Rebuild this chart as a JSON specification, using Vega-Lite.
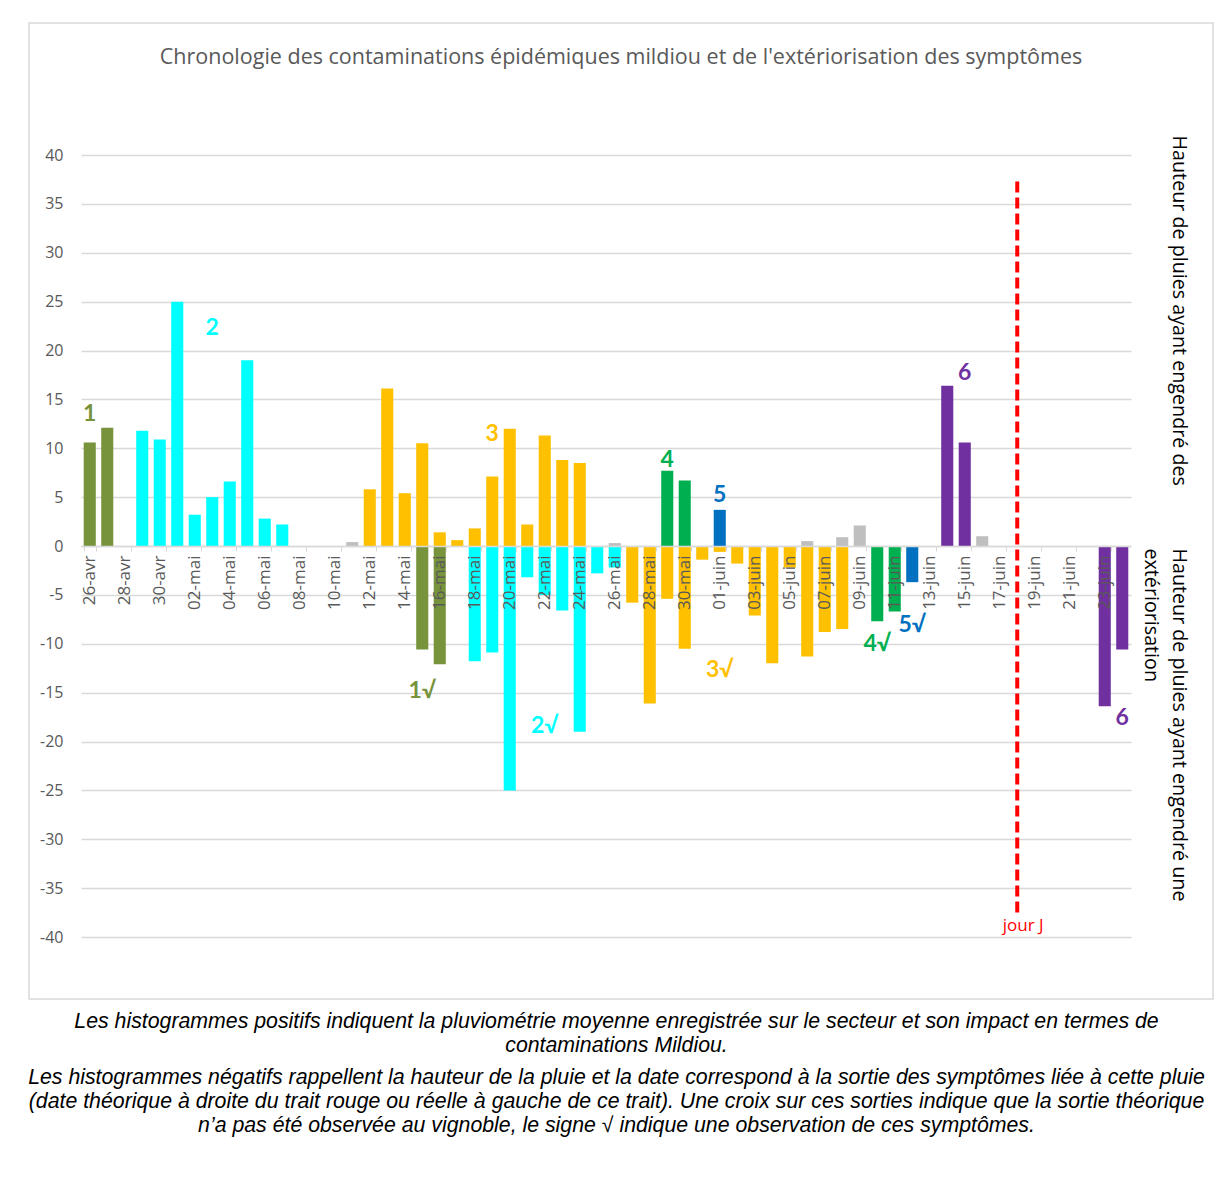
{
  "$schema": "https://vega.github.io/schema/vega-lite/v6.json",
  "background": "white",
  "padding": {"left": 19, "top": 22, "right": 0, "bottom": 0},
  "autosize": {"type": "pad"},
  "title": {
    "text": ["Les histogrammes positifs indiquent la pluviométrie moyenne enregistrée sur le secteur et son impact en termes de", "contaminations Mildiou."],
    "subtitle": ["Les histogrammes négatifs rappellent la hauteur de la pluie et la date correspond à la sortie des symptômes liée à cette pluie", "(date théorique à droite du trait rouge ou réelle à gauche de ce trait). Une croix sur ces sorties indique que la sortie théorique", "n’a pas été observée au vignoble, le signe √ indique une observation de ces symptômes."],
    "orient": "bottom",
    "anchor": "middle",
    "offset": 11,
    "font": "Liberation Sans",
    "fontSize": 21.3,
    "fontStyle": "italic",
    "fontWeight": "normal",
    "color": "black",
    "lineHeight": 24,
    "subtitleFont": "Liberation Sans",
    "subtitleFontSize": 21.3,
    "subtitleFontStyle": "italic",
    "subtitleColor": "black",
    "subtitleLineHeight": 24,
    "subtitlePadding": 11
  },
  "datasets": {
    "bars": [
      {"d":"26-avr","v":10.6,"g":"1"},
      {"d":"27-avr","v":12.1,"g":"1"},
      {"d":"29-avr","v":11.8,"g":"2"},
      {"d":"30-avr","v":10.9,"g":"2"},
      {"d":"01-mai","v":25.0,"g":"2"},
      {"d":"02-mai","v":3.2,"g":"2"},
      {"d":"03-mai","v":5.0,"g":"2"},
      {"d":"04-mai","v":6.6,"g":"2"},
      {"d":"05-mai","v":19.0,"g":"2"},
      {"d":"06-mai","v":2.8,"g":"2"},
      {"d":"07-mai","v":2.2,"g":"2"},
      {"d":"11-mai","v":0.4,"g":"autre"},
      {"d":"12-mai","v":5.8,"g":"3"},
      {"d":"13-mai","v":16.1,"g":"3"},
      {"d":"14-mai","v":5.4,"g":"3"},
      {"d":"15-mai","v":10.5,"g":"3"},
      {"d":"16-mai","v":1.4,"g":"3"},
      {"d":"17-mai","v":0.6,"g":"3"},
      {"d":"18-mai","v":1.8,"g":"3"},
      {"d":"19-mai","v":7.1,"g":"3"},
      {"d":"20-mai","v":12.0,"g":"3"},
      {"d":"21-mai","v":2.2,"g":"3"},
      {"d":"22-mai","v":11.3,"g":"3"},
      {"d":"23-mai","v":8.8,"g":"3"},
      {"d":"24-mai","v":8.5,"g":"3"},
      {"d":"26-mai","v":0.3,"g":"autre"},
      {"d":"29-mai","v":7.7,"g":"4"},
      {"d":"30-mai","v":6.7,"g":"4"},
      {"d":"01-juin","v":3.7,"g":"5"},
      {"d":"06-juin","v":0.5,"g":"autre"},
      {"d":"08-juin","v":0.9,"g":"autre"},
      {"d":"09-juin","v":2.1,"g":"autre"},
      {"d":"14-juin","v":16.4,"g":"6"},
      {"d":"15-juin","v":10.6,"g":"6"},
      {"d":"16-juin","v":1.0,"g":"autre"},
      {"d":"15-mai","v":-10.6,"g":"1"},
      {"d":"16-mai","v":-12.1,"g":"1"},
      {"d":"18-mai","v":-11.8,"g":"2"},
      {"d":"19-mai","v":-10.9,"g":"2"},
      {"d":"20-mai","v":-25.0,"g":"2"},
      {"d":"21-mai","v":-3.2,"g":"2"},
      {"d":"22-mai","v":-5.0,"g":"2"},
      {"d":"23-mai","v":-6.6,"g":"2"},
      {"d":"24-mai","v":-19.0,"g":"2"},
      {"d":"25-mai","v":-2.8,"g":"2"},
      {"d":"26-mai","v":-2.2,"g":"2"},
      {"d":"27-mai","v":-5.8,"g":"3"},
      {"d":"28-mai","v":-16.1,"g":"3"},
      {"d":"29-mai","v":-5.4,"g":"3"},
      {"d":"30-mai","v":-10.5,"g":"3"},
      {"d":"31-mai","v":-1.4,"g":"3"},
      {"d":"01-juin","v":-0.6,"g":"3"},
      {"d":"02-juin","v":-1.8,"g":"3"},
      {"d":"03-juin","v":-7.1,"g":"3"},
      {"d":"04-juin","v":-12.0,"g":"3"},
      {"d":"05-juin","v":-2.2,"g":"3"},
      {"d":"06-juin","v":-11.3,"g":"3"},
      {"d":"07-juin","v":-8.8,"g":"3"},
      {"d":"08-juin","v":-8.5,"g":"3"},
      {"d":"10-juin","v":-7.7,"g":"4"},
      {"d":"11-juin","v":-6.7,"g":"4"},
      {"d":"12-juin","v":-3.7,"g":"5"},
      {"d":"23-juin","v":-16.4,"g":"6"},
      {"d":"24-juin","v":-10.6,"g":"6"}
    ],
    "labels": [
      {"d":"26-avr","v":13.5,"t":"1","g":"1"},
      {"d":"03-mai","v":22.3,"t":"2","g":"2"},
      {"d":"19-mai","v":11.5,"t":"3","g":"3"},
      {"d":"29-mai","v":8.8,"t":"4","g":"4"},
      {"d":"01-juin","v":5.2,"t":"5","g":"5"},
      {"d":"15-juin","v":17.7,"t":"6","g":"6"},
      {"d":"15-mai","v":-14.8,"t":"1√","g":"1"},
      {"d":"22-mai","v":-18.4,"t":"2√","g":"2"},
      {"d":"01-juin","v":-12.7,"t":"3√","g":"3"},
      {"d":"10-juin","v":-10.0,"t":"4√","g":"4"},
      {"d":"12-juin","v":-8.1,"t":"5√","g":"5"},
      {"d":"24-juin","v":-17.6,"t":"6","g":"6"}
    ],
    "jour": [
      {"d":"18-juin","v":37.3,"v2":-37.5,"t":"jour J","tv":-38.9}
    ]
  },
  "vconcat": [
    {
      "width": 1184,
      "height": 976,
      "title": {
        "text": "Chronologie des contaminations épidémiques mildiou et de l'extériorisation des symptômes",
        "offset": -45,
        "anchor": "middle",
        "font": "Open Sans",
        "fontSize": 21.5,
        "fontWeight": "normal",
        "color": "#595959"
      },
      "encoding": {
        "x": {
          "field": "d",
          "type": "nominal",
          "scale": {
            "domain": ["26-avr","27-avr","28-avr","29-avr","30-avr",
              "01-mai","02-mai","03-mai","04-mai","05-mai","06-mai","07-mai","08-mai","09-mai","10-mai",
              "11-mai","12-mai","13-mai","14-mai","15-mai","16-mai","17-mai","18-mai","19-mai","20-mai",
              "21-mai","22-mai","23-mai","24-mai","25-mai","26-mai","27-mai","28-mai","29-mai","30-mai","31-mai",
              "01-juin","02-juin","03-juin","04-juin","05-juin","06-juin","07-juin","08-juin","09-juin","10-juin",
              "11-juin","12-juin","13-juin","14-juin","15-juin","16-juin","17-juin","18-juin","19-juin","20-juin",
              "21-juin","22-juin","23-juin","24-juin"],
            "range": [52, 1102],
            "paddingInner": 0.31,
            "paddingOuter": 0.155
          },
          "axis": {
            "orient": "bottom",
            "offset": -453,
            "title": null,
            "values": ["26-avr","28-avr","30-avr","02-mai","04-mai","06-mai","08-mai","10-mai","12-mai","14-mai","16-mai","18-mai","20-mai","22-mai","24-mai","26-mai","28-mai","30-mai","01-juin","03-juin","05-juin","07-juin","09-juin","11-juin","13-juin","15-juin","17-juin","19-juin","21-juin","23-juin"],
            "labelAngle": -90,
            "labelAlign": "right",
            "labelBaseline": "middle",
            "labelPadding": 4,
            "labelFont": "Open Sans",
            "labelFontSize": 17,
            "labelColor": "#595959",
            "labelOverlap": false,
            "tickBand": "extent",
            "tickSize": 5,
            "tickColor": "#D9D9D9",
            "domainColor": "#D9D9D9",
            "domainWidth": 1.5,
            "grid": false,
            "zindex": 1
          }
        }
      },
      "layer": [
        {
          "data": {"name": "bars"},
          "mark": {"type": "bar"},
          "encoding": {
            "y": {
              "field": "v",
              "type": "quantitative",
              "stack": null,
              "scale": {"domain": [-40, 40], "range": [914, 132], "nice": false, "zero": false},
              "axis": {
                "orient": "left",
                "offset": -52,
                "title": null,
                "values": [-40,-35,-30,-25,-20,-15,-10,-5,0,5,10,15,20,25,30,35,40],
                "labelExpr": "datum.value < 0 ? '-' + abs(datum.value) : '' + datum.value",
                "ticks": false,
                "domain": false,
                "grid": true,
                "gridColor": "#D9D9D9",
                "gridWidth": 1.3,
                "labelPadding": 18,
                "labelFont": "Open Sans",
                "labelFontSize": 16,
                "labelColor": "#595959",
                "labelOverlap": false,
                "labelFlush": false
              }
            },
            "color": {
              "field": "g",
              "type": "nominal",
              "scale": {
                "domain": ["1","2","3","4","5","6","autre"],
                "range": ["#77933C","#00FFFF","#FFC000","#00B050","#0070C0","#7030A0","#BFBFBF"]
              },
              "legend": null
            }
          }
        },
        {
          "data": {"name": "labels"},
          "mark": {"type": "text", "font": "Lato", "fontWeight": "bold", "fontSize": 23, "baseline": "middle"},
          "encoding": {
            "y": {
              "field": "v",
              "type": "quantitative",
              "scale": {"domain": [-40, 40], "range": [914, 132], "nice": false, "zero": false},
              "axis": {
                "orient": "right",
                "offset": -45,
                "title": null,
                "values": [6.2, -0.2],
                "labelExpr": "datum.value > 0 ? 'Hauteur de pluies ayant engendré des' : ['Hauteur de pluies ayant engendré une', 'extériorisation']",
                "labelAngle": 90,
                "labelAlign": {"condition": {"test": "datum.value > 0", "value": "right"}, "value": "left"},
                "labelBaseline": "bottom",
                "labelLineHeight": 28,
                "labelPadding": 0,
                "labelLimit": 0,
                "labelFont": "Open Sans",
                "labelFontSize": 19.7,
                "labelColor": "black",
                "labelOverlap": false,
                "labelFlush": false,
                "ticks": false,
                "domain": false,
                "grid": false
              }
            },
            "text": {"field": "t", "type": "nominal"},
            "color": {"field": "g", "type": "nominal", "legend": null}
          }
        },
        {
          "data": {"name": "jour"},
          "mark": {"type": "rule", "color": "#FF0000", "strokeWidth": 4, "strokeDash": [11, 5]},
          "encoding": {
            "y": {"field": "v", "type": "quantitative", "scale": {"domain": [-40, 40], "range": [914, 132], "nice": false, "zero": false}, "axis": null},
            "y2": {"field": "v2"}
          }
        },
        {
          "data": {"name": "jour"},
          "mark": {"type": "text", "color": "#FF0000", "font": "Open Sans", "fontSize": 17, "baseline": "middle", "dx": 6},
          "encoding": {
            "y": {"field": "tv", "type": "quantitative", "scale": {"domain": [-40, 40], "range": [914, 132], "nice": false, "zero": false}, "axis": null},
            "text": {"field": "t", "type": "nominal"}
          }
        }
      ],
      "resolve": {"axis": {"y": "independent"}}
    }
  ],
  "config": {
    "view": {"stroke": "#D9D9D9", "strokeWidth": 1.5}
  }
}
